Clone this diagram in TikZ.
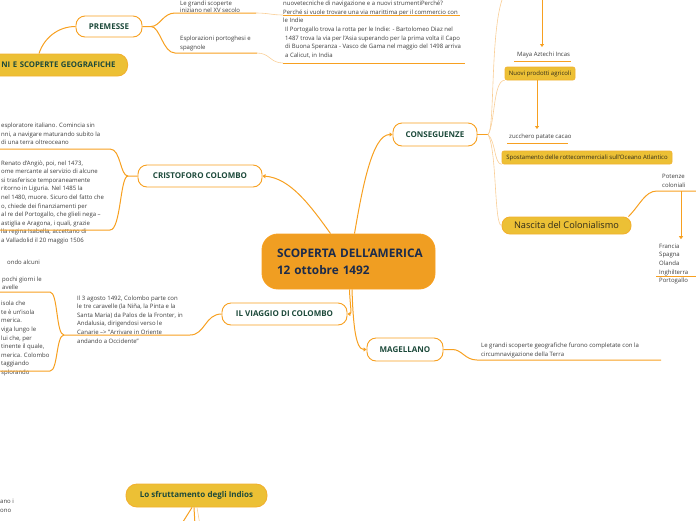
\documentclass[tikz,border=0pt]{standalone}
\usepackage{fontspec}
\setmainfont{Open Sans}
\usetikzlibrary{arrows.meta}
\definecolor{lineor}{HTML}{F7A020}
\definecolor{linelt}{HTML}{F9CE96}
\definecolor{rootfill}{HTML}{F09E22}
\definecolor{yellowfill}{HTML}{ECC035}
\definecolor{yellowedge}{HTML}{F2B02E}
\definecolor{topicgreen}{HTML}{1D4A3B}
\definecolor{rootnavy}{HTML}{1B2B4B}
\definecolor{txtgray}{HTML}{3C3C3C}
\definecolor{txtdark}{HTML}{2E2A1A}

\tikzset{
  rootbox/.style={draw=lineor, fill=rootfill, line width=0.9pt, rounded corners=16pt,
    text width=143pt, align=left, minimum height=55pt, inner xsep=15pt, inner ysep=0pt,
    text=rootnavy, font=\fontsize{11.8}{17}\selectfont\bfseries},
  topic/.style={draw=lineor, fill=white, line width=0.9pt, rounded corners=9pt,
    inner sep=0pt, text=topicgreen, font=\fontsize{8}{9}\selectfont\bfseries},
  yellowtopic/.style={draw=yellowedge, fill=yellowfill, line width=0.9pt, rounded corners=10pt,
    inner sep=0pt, text=topicgreen, font=\fontsize{7.8}{9}\selectfont\bfseries},
  yellowtag/.style={draw=yellowedge, fill=yellowfill, line width=0.6pt, rounded corners=2pt,
    inner sep=0pt, text=txtdark, font=\fontsize{6}{7}\selectfont},
  note/.style={anchor=north west, inner sep=0pt, align=left, text=txtgray,
    font=\fontsize{6}{8.6}\selectfont},
  link/.style={draw=lineor, line width=1pt},
  thinlink/.style={draw=linelt, line width=0.6pt},
  tip/.style={-{Triangle[width=4pt,length=3pt]}}
}

\begin{document}
\begin{tikzpicture}[x=1pt,y=-1pt]
\useasboundingbox (0,0) rectangle (696,520);
\clip (0,0) rectangle (696,520);

% topics
\node[rootbox] (root) at (348.5,261.5) {\mbox{SCOPERTA DELL'AMERICA}\\12 ottobre 1492};
\node[topic, minimum width=66pt, minimum height=21pt] (premesse) at (109,26.5) {PREMESSE};
\node[yellowtopic, anchor=east, text width=150pt, align=right, inner xsep=12pt,
  minimum height=22pt] (esplor) at (128,65) {NI E SCOPERTE GEOGRAFICHE};
\node[topic, minimum width=124pt, minimum height=22pt] (colombo) at (200,176) {CRISTOFORO COLOMBO};
\node[topic, minimum width=125pt, minimum height=22pt] (viaggio) at (284.5,314) {IL VIAGGIO DI COLOMBO};
\node[topic, minimum width=84pt, minimum height=23pt] (conseg) at (435,134.5) {CONSEGUENZE};
\node[topic, minimum width=76pt, minimum height=23pt] (magellano) at (405,349.5) {MAGELLANO};
\node[yellowtag, minimum width=70pt, minimum height=13pt] (prodotti) at (540,73.5) {Nuovi prodotti agricoli};
\node[yellowtag, minimum width=170pt, minimum height=13pt] (rotte) at (587,157.5)
  {Spostamento delle rottecommerciali sull'Oceano Atlantico};
\node[yellowtopic, rounded corners=8pt, minimum width=129pt, minimum height=17pt, text=txtdark,
  font=\fontsize{9.2}{10}\selectfont] (nascita) at (566.5,225.5) {Nascita del Colonialismo};
\node[yellowtopic, rounded corners=11pt, minimum width=141pt, minimum height=23pt,
  font=\fontsize{8}{9}\selectfont\bfseries] (indios) at (196.5,495.5) {Lo sfruttamento degli Indios};

% notes
\node[note, font=\fontsize{6}{7}\selectfont] (xv) at (180,0.5) {Le grandi scoperte\\iniziano nel XV secolo};
\node[note] (spagnole) at (180,36) {Esplorazioni portoghesi e\\spagnole};
\node[note] (strumenti) at (283,1) {nuovetecniche di navigazione e a nuovi strumentiPerché?\\
  Perché si vuole trovare una via marittima per il commercio con\\le Indie};
\node[note] (portogallo) at (285,27) {Il Portogallo trova la rotta per le Indie: - Bartolomeo Diaz nel\\
  1487 trova la via per l'Asia superando per la prima volta il Capo\\
  di Buona Speranza - Vasco de Gama nel maggio del 1498 arriva\\a Calicut, in India};
\node[note] (maya) at (517,52) {Maya Aztechi Incas};
\node[note] (zucch) at (509,134) {zucchero patate cacao};
\node[note] (potenze) at (662,174) {Potenze\\coloniali};
\node[note] (francia) at (659,243.7) {Francia\\Spagna\\Olanda\\Inghilterra\\Portogallo};
\node[note] (circum) at (481,342.7) {Le grandi scoperte geografiche furono completate con la\\
  circumnavigazione della Terra};
\node[note] (partenza) at (77,295.3) {Il 3 agosto 1492, Colombo parte con\\
  le tre caravelle (la Niña, la Pinta e la\\Santa Maria) da Palos de la Fronter, in\\
  Andalusia, dirigendosi verso le\\Canarie --> "Arrivare in Oriente\\andando a Occidente"};
\node[note] (alcuni) at (7,259.3) {ondo alcuni};
\node[note] (giorni) at (2,276.3) {pochi giorni le\\avelle};
\node[note] (isola) at (1,301) {isola che\\te è un'isola\\merica.\\viga lungo le\\lui che, per\\
  tinente il quale,\\merica. Colombo\\taggiando\\splorando};
\node[note] (esplorat) at (1,122.7) {esploratore italiano. Comincia sin\\
  nni, a navigare maturando subito la\\di una terra oltreoceano};
\node[note] (angio) at (1,160.3) {Renato d'Angiò, poi, nel 1473,\\ome mercante al servizio di alcune\\
  si trasferisce temporaneamente\\ritorno in Liguria. Nel 1485 la\\
  nel 1480, muore. Sicuro del fatto che\\o, chiede dei finanziamenti per\\
  al re del Portogallo, che glieli nega --\\astiglia e Aragona, i quali, grazie\\
  lla regina Isabella, accettano di\\a Valladolid il 20 maggio 1506};
\node[note] (sfrutt) at (0,499) {ano i\\ono};

% line ends
\coordinate (pb) at (151,26.5);
\coordinate (xvL) at (175,13);   \coordinate (xvR) at (256,13);
\coordinate (spL) at (175,53);   \coordinate (spR) at (257,53);
\coordinate (strL) at (283,15);  \coordinate (strR) at (460,15);
\coordinate (portL) at (283,63); \coordinate (portR) at (465,63);
\coordinate (cb) at (488,134.5);
\coordinate (conTop) at (503,-3);
\coordinate (mayatop) at (542,-3);
\coordinate (potL) at (657,191); \coordinate (potR) at (700,191);
\coordinate (potdrop) at (681,191);
\coordinate (magL) at (477,360); \coordinate (magR) at (661,360);
\coordinate (colb) at (128,176);
\coordinate (colUp) at (110,149); \coordinate (colUpL) at (-3,149);
\coordinate (colDn) at (110,230); \coordinate (colDnL) at (-3,230);
\coordinate (viaR) at (190,335); \coordinate (viaB) at (64,335);
\coordinate (vupR) at (50,292);  \coordinate (vupL) at (-3,292);
\coordinate (vdnR) at (50,371);  \coordinate (vdnL) at (-3,371);
\coordinate (ind1) at (181,525); \coordinate (ind2) at (195,525); \coordinate (ind3) at (200,525);

% premesse
\draw[link] (premesse.west) .. controls (58,26.5) and (44,38) .. ([xshift=-89pt]esplor.north east);
\draw[link] (premesse.east) -- (pb) .. controls (160,26.5) and (163,13) .. (xvL) -- (xvR);
\draw[link] (pb) .. controls (160,26.5) and (163,53) .. (spL) -- (spR);
\draw[thinlink] (xvR) .. controls (268,13) and (272,15) .. (strL);
\draw[link] (strL) -- (strR);
\draw[thinlink] (spR) .. controls (270,53) and (270,63) .. (portL);
\draw[link] (portL) -- (portR);

% root links
\draw[link, tip] ([xshift=-18pt]root.north) .. controls (310,205) and (290,178) .. (colombo.east);
\draw[link, tip] ([xshift=6pt]root.north) .. controls (362,190) and (372,134.5) .. (conseg.west);
\draw[link, tip] ([xshift=1pt]root.south) .. controls (350,305) and (352,314) .. (viaggio.east);
\draw[link, tip] ([xshift=3.5pt]root.south) .. controls (353,320) and (355,349.5) .. (magellano.west);

% conseguenze
\draw[link] (conseg.east) -- (cb);
\draw[thinlink] (cb) .. controls (495,130) and (490,30) .. (conTop);
\draw[thinlink] (cb) .. controls (495,125) and (493,80) .. (prodotti.south west);
\draw[thinlink] (cb) .. controls (496,142) and (494,164) .. (rotte.south west);
\draw[thinlink] (cb) .. controls (497,150) and (494,225.5) .. (nascita.west);
\draw[link, tip] (mayatop) -- ([yshift=5pt]mayatop |- maya.north);
\draw[link] (514,61) -- (571,61);
\draw[link, tip] ([xshift=-3pt]prodotti.south) -- ([xshift=-3pt,yshift=5pt]prodotti.south |- zucch.north);
\draw[link] (507,143) -- (568,143);
\draw[link] ([xshift=-3pt]nascita.north east) .. controls (640,205) and (645,191) .. (potL) -- (potR);
\draw[link, tip] (potdrop) -- ([yshift=4.5pt]potdrop |- francia.north);
\draw[link] (656,276) -- (700,276);

% magellano
\draw[link] (magellano.east) -- ++(9,0) .. controls (462,349.5) and (465,360) .. (magL) -- (magR);

% colombo
\draw[link] (colombo.west) -- (colb) .. controls (120,176) and (121,149) .. (colUp) -- (colUpL);
\draw[link] (colb) .. controls (120,176) and (121,230) .. (colDn) -- (colDnL);

% viaggio
\draw[link] (viaggio.west) .. controls (205,314) and (205,335) .. (viaR) -- (viaB);
\draw[link] (viaB) .. controls (56,335) and (58,292) .. (vupR) -- (vupL);
\draw[link] (viaB) .. controls (56,335) and (58,371) .. (vdnR) -- (vdnL);

% indios
\draw[link] ([xshift=-4.5pt]indios.south) -- (ind1);
\draw[link] ([xshift=-2.5pt]indios.south) -- (ind2);
\draw[thinlink] ([xshift=0.5pt]indios.south) -- (ind3);
\end{tikzpicture}
\end{document}
